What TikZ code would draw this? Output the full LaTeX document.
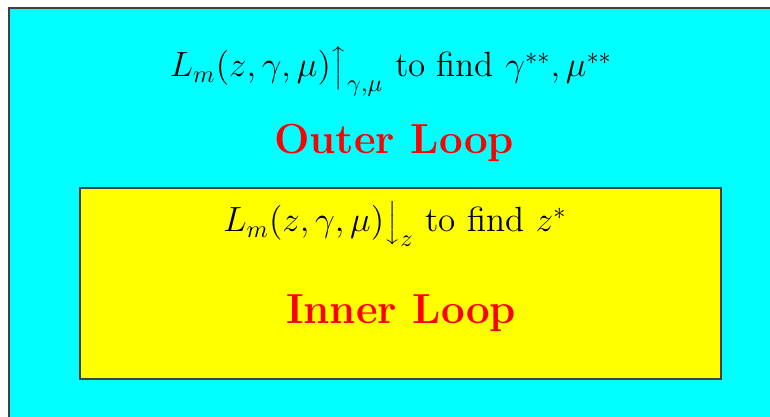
\documentclass[tikz,border=0pt]{standalone}
\usetikzlibrary{positioning}
\definecolor{loopcyan}{RGB}{0,255,255}
\definecolor{loopyellow}{RGB}{255,255,0}
\definecolor{looptitle}{RGB}{255,0,0}

\begin{document}
\begin{tikzpicture}[
		x=0.4115pt, y=-0.4115pt,
		% Define Box Styles
		loopbox/.style={draw=black!75, line width=0.5pt},
		outerbox/.style={loopbox, fill=loopcyan},
		innerbox/.style={loopbox, fill=loopyellow},
		% Define Text Styles
		goal/.style={anchor=base, font=\Large, inner sep=0pt},
		title/.style={anchor=base, font=\LARGE\bfseries, text=looptitle, inner sep=0pt}
		]
		\useasboundingbox (0,0) rectangle (770,417);
		% Boxes
		\draw[outerbox] (9,8) coordinate (OTL) rectangle (775,422) coordinate (OBR);
		\draw[innerbox] (80,188) coordinate (ITL) rectangle (721,379) coordinate (IBR);
		
		% Outer Loop Texts
		\node[goal] (OG) at (391,77) {$L_m(z,\gamma,\mu)\Big\uparrow_{\gamma,\mu}$ to find $\gamma^{**},\mu^{**}$};
		\node[title] (OT) at (394,154) {Outer Loop};
		
		% Inner Loop Texts
		\node[goal] (IG) at (395,232) {$L_m(z,\gamma,\mu)\Big\downarrow_{z}$ to find $z^{*}$};
		\node[title] (IT) at (401,324) {Inner Loop};
		
	\end{tikzpicture}
\end{document}
